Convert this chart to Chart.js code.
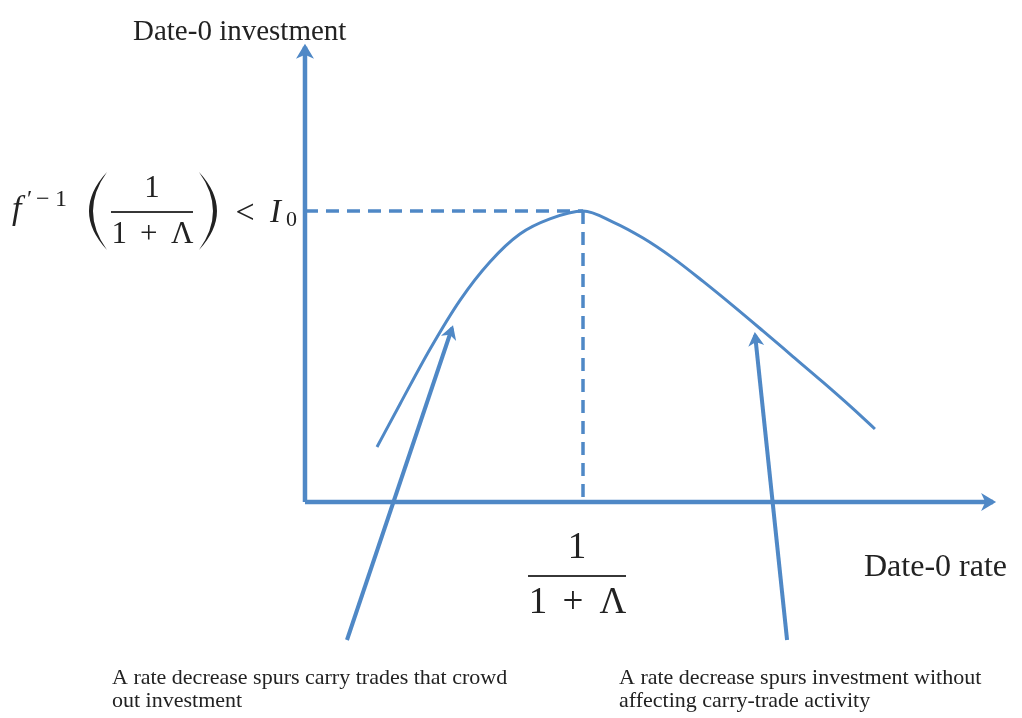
<!DOCTYPE html>
<html lang="en">
<head>
  <meta charset="UTF-8">
  <title>Date-0 investment vs date-0 rate</title>
  <script src="https://cdn.jsdelivr.net/npm/chart.js"></script>
  <style>
    html, body { margin: 0; padding: 0; background: #fff; }
    #wrap { width: 1022px; height: 718px; }
  </style>
</head>
<body>
  <div id="wrap"><canvas id="diagram" width="1022" height="718"></canvas></div>

  <script>
    // hump-shaped investment curve (rate on x, investment on y, peak at 1/(1+Λ) -> 1)
    const curveRate       = [0.259, 0.342, 0.450, 0.558, 0.665, 0.773, 0.881, 1.000, 1.108, 1.216, 1.324, 1.432, 1.540, 1.647, 1.755, 1.863, 1.971, 2.050];
    const curveInvestment = [0.189, 0.337, 0.526, 0.694, 0.825, 0.921, 0.973, 1.000, 0.962, 0.907, 0.838, 0.758, 0.674, 0.588, 0.500, 0.412, 0.321, 0.251];

    const peakRate = 1;
    const peakInvestment = 1;
    const axisEndRate = 2.475;
    const axisEndInvestment = 1.564;

    // annotation arrows: [from, to] in (rate, investment)
    const leftArrowRate = [0.151, 0.529];
    const leftArrowInv  = [-0.474, 0.598];
    const rightArrowRate = [1.734, 1.619];
    const rightArrowInv  = [-0.474, 0.574];

    const xLabel = 'Date-0 rate';
    const yLabel = 'Date-0 investment';
    const noteLeft  = ['A rate decrease spurs carry trades that crowd', 'out investment'];
    const noteRight = ['A rate decrease spurs investment without', 'affecting carry-trade activity'];

    const blue = '#4f88c6';
    const ink = '#222';
    const serif = '"Liberation Serif", "Times New Roman", serif';

    function pts(xs, ys) {
      return xs.map((x, i) => ({ x: x, y: ys[i] }));
    }

    function arrowHead(ctx, from, to, len, half) {
      const a = Math.atan2(to.y - from.y, to.x - from.x);
      const tx = to.x + Math.cos(a) * 3, ty = to.y + Math.sin(a) * 3;
      const bx = tx - Math.cos(a) * len, by = ty - Math.sin(a) * len;
      const nx = tx - Math.cos(a) * len * 0.72, ny = ty - Math.sin(a) * len * 0.72;
      ctx.beginPath();
      ctx.moveTo(tx, ty);
      ctx.lineTo(bx + Math.sin(a) * half, by - Math.cos(a) * half);
      ctx.lineTo(nx, ny);
      ctx.lineTo(bx - Math.sin(a) * half, by + Math.cos(a) * half);
      ctx.closePath();
      ctx.fill();
    }

    // big parenthesis as a filled crescent
    function paren(ctx, x, top, bottom, bulge, thick) {
      const mid = (top + bottom) / 2;
      ctx.beginPath();
      ctx.moveTo(x, top);
      ctx.quadraticCurveTo(x - 2 * bulge, mid, x, bottom);
      ctx.quadraticCurveTo(x - 2 * bulge + 2 * thick * Math.sign(bulge), mid, x, top);
      ctx.fill();
    }

    // fraction 1 / (1 + Λ) centred on cx with bar at barY
    function fraction(ctx, cx, barY, size, halfBar) {
      ctx.font = size + 'px ' + serif;
      ctx.textAlign = 'center';
      ctx.textBaseline = 'alphabetic';
      ctx.fillText('1', cx, barY - size * 0.48);
      ctx.fillRect(cx - halfBar, barY - 0.9, halfBar * 2, 1.8);
      const s = size / 37;
      const base = barY + size * 1.0;
      ctx.fillText('1', cx - 39 * s, base);
      ctx.fillText('+', cx - 4 * s, base);
      ctx.fillText('\u039B', cx + 36 * s, base);
    }

    const decorations = {
      id: 'decorations',
      afterDatasetsDraw(chart) {
        const ctx = chart.ctx;
        const xs = chart.scales.x, ys = chart.scales.y;
        ctx.save();
        ctx.fillStyle = blue;
        chart.data.datasets.forEach((ds, i) => {
          if (!ds.arrow) return;
          const m = chart.getDatasetMeta(i).data;
          arrowHead(ctx, m[m.length - 2], m[m.length - 1], ds.arrow[0], ds.arrow[1]);
        });

        ctx.fillStyle = ink;
        ctx.textAlign = 'left';
        ctx.textBaseline = 'alphabetic';
        ctx.font = '29px ' + serif;
        ctx.fillText(yLabel, 133, 40);
        ctx.font = '32px ' + serif;
        ctx.fillText(xLabel, 864, 576);

        ctx.font = '22px ' + serif;
        ctx.fillText(noteLeft[0], 112, 684);
        ctx.fillText(noteLeft[1], 112, 707);
        ctx.fillText(noteRight[0], 619, 684);
        ctx.fillText(noteRight[1], 619, 707);

        // fraction under the x axis at the peak rate
        const px = xs.getPixelForValue(peakRate);
        fraction(ctx, px - 6, 576, 37, 49);

        // f'^{-1}(1/(1+Λ)) < I_0 beside the y axis at the peak investment
        const o = xs.getPixelForValue(0) - 305;
        const py = ys.getPixelForValue(peakInvestment) + 1;
        ctx.textAlign = 'left';
        ctx.font = 'italic 34px ' + serif;
        ctx.fillText('f', 12 + o, py + 7);
        ctx.font = '24px ' + serif;
        ctx.fillText('\u2032', 27 + o, py - 6);
        ctx.fillText('\u2212', 36 + o, py - 6);
        ctx.fillText('1', 55 + o, py - 6);
        paren(ctx, 107 + o, py - 40, py + 38, 18, 4);
        paren(ctx, 199 + o, py - 40, py + 38, -18, 4);
        fraction(ctx, 152 + o, py, 31, 41);
        ctx.textAlign = 'center';
        ctx.font = '34px ' + serif;
        ctx.fillText('<', 245 + o, py + 11);
        ctx.textAlign = 'left';
        ctx.font = 'italic 33px ' + serif;
        ctx.fillText('I', 270 + o, py + 10);
        ctx.font = '22px ' + serif;
        ctx.fillText('0', 286 + o, py + 14);
        ctx.restore();
      }
    };

    const lineDs = (data, extra) => Object.assign({
      data: data,
      showLine: true,
      borderColor: blue,
      backgroundColor: blue,
      pointRadius: 0,
      fill: false,
      clip: false
    }, extra);

    new Chart(document.getElementById('diagram'), {
      type: 'scatter',
      data: {
        datasets: [
          lineDs(pts([0, axisEndRate], [0, 0]), { borderWidth: 4.5, arrow: [15, 9] }),
          lineDs(pts([0, 0], [0, axisEndInvestment]), { borderWidth: 4.5, arrow: [15, 9] }),
          lineDs(pts([0, peakRate], [peakInvestment, peakInvestment]), { borderWidth: 3.5, borderDash: [13, 8] }),
          lineDs(pts([peakRate, peakRate], [peakInvestment, 0]), { borderWidth: 3.5, borderDash: [13, 8] }),
          lineDs(pts(curveRate, curveInvestment), { borderWidth: 3, cubicInterpolationMode: 'monotone' }),
          lineDs(pts(leftArrowRate, leftArrowInv), { borderWidth: 4, arrow: [14, 8] }),
          lineDs(pts(rightArrowRate, rightArrowInv), { borderWidth: 4, arrow: [14, 8] })
        ]
      },
      options: {
        responsive: false,
        animation: false,
        layout: { padding: 0 },
        plugins: { legend: { display: false }, tooltip: { enabled: false } },
        scales: {
          x: { type: 'linear', display: false, min: -1.097, max: 2.579 },
          y: { type: 'linear', display: false, min: -0.742, max: 1.725 }
        }
      },
      plugins: [decorations]
    });
  </script>
</body>
</html>
